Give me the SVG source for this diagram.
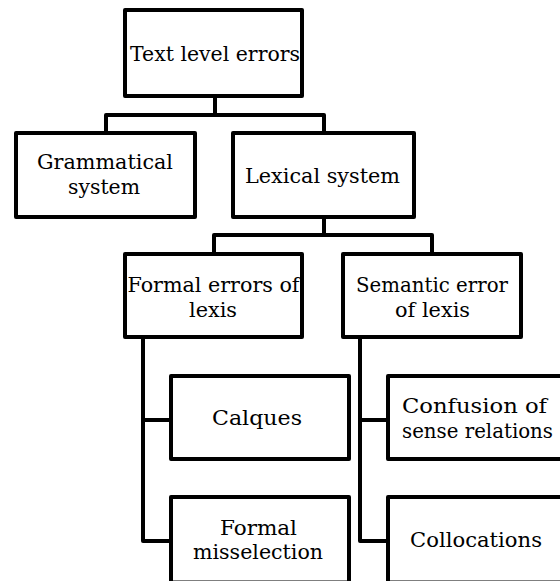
<svg xmlns="http://www.w3.org/2000/svg" width="560" height="581" viewBox="0 0 560 581">
<style>
.box{fill:#fff;stroke:#000;stroke-width:4;stroke-linejoin:round}
.con{fill:none;stroke:#000;stroke-width:4;stroke-linejoin:round;stroke-linecap:square}
.t{font-family:'DejaVu Serif','Liberation Serif',serif;font-size:21px;fill:#000;text-anchor:middle}
</style>
<rect width="560" height="581" fill="#fff"/>
<g id="connectors">
<path class="con" d="M215,96 V115 M106,133 V115 H324 V133"/>
<path class="con" d="M324,217 V235 M214,254 V235 H432 V254"/>
<path class="con" d="M143,337 V541 H171 M143,420 H171"/>
<path class="con" d="M360,337 V541 H388 M360,420 H388"/>
</g>
<g id="n-text-level">
<rect class="box" x="125" y="10" width="177" height="86"/>
<text class="t" x="215" y="61" textLength="170" lengthAdjust="spacingAndGlyphs">Text level errors</text>
</g>
<g id="n-grammatical">
<rect class="box" x="16" y="133" width="179" height="84"/>
<text class="t" x="105" y="169" textLength="136" lengthAdjust="spacingAndGlyphs">Grammatical</text>
<text class="t" x="104" y="194" textLength="72" lengthAdjust="spacingAndGlyphs">system</text>
</g>
<g id="n-lexical">
<rect class="box" x="233" y="133" width="181" height="84"/>
<text class="t" x="322.5" y="183" textLength="155" lengthAdjust="spacingAndGlyphs">Lexical system</text>
</g>
<g id="n-formal-errors">
<rect class="box" x="125" y="254" width="177" height="83"/>
<text class="t" x="213.5" y="292" textLength="172" lengthAdjust="spacingAndGlyphs">Formal errors of</text>
<text class="t" x="213" y="317" textLength="48" lengthAdjust="spacingAndGlyphs">lexis</text>
</g>
<g id="n-semantic">
<rect class="box" x="343" y="254" width="178" height="83"/>
<text class="t" x="432" y="292" textLength="152" lengthAdjust="spacingAndGlyphs">Semantic error</text>
<text class="t" x="432.5" y="317" textLength="75" lengthAdjust="spacingAndGlyphs">of lexis</text>
</g>
<g id="n-calques">
<rect class="box" x="171" y="376" width="178" height="83"/>
<text class="t" x="257" y="425" textLength="90" lengthAdjust="spacingAndGlyphs">Calques</text>
</g>
<g id="n-formal-misselection">
<rect class="box" x="171" y="497" width="178" height="85.5"/>
<text class="t" x="258.5" y="535" textLength="77" lengthAdjust="spacingAndGlyphs">Formal</text>
<text class="t" x="258" y="559" textLength="130" lengthAdjust="spacingAndGlyphs">misselection</text>
</g>
<g id="n-confusion">
<rect class="box" x="388" y="376" width="178" height="83"/>
<text class="t" x="474.5" y="413" textLength="145" lengthAdjust="spacingAndGlyphs">Confusion of</text>
<text class="t" x="477.5" y="438" textLength="151" lengthAdjust="spacingAndGlyphs">sense relations</text>
</g>
<g id="n-collocations">
<rect class="box" x="388" y="497" width="178" height="85.5"/>
<text class="t" x="476" y="547" textLength="132" lengthAdjust="spacingAndGlyphs">Collocations</text>
</g>
</svg>
